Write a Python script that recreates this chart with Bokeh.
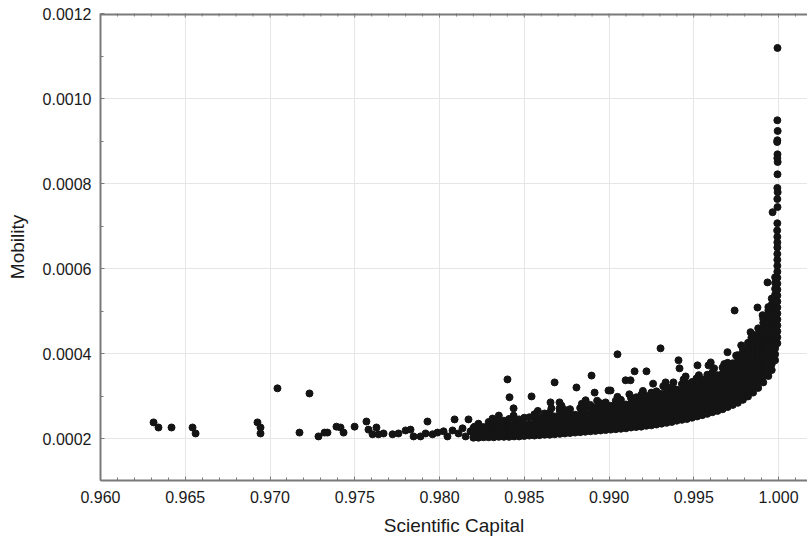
from math import pi
from bokeh.plotting import figure
from bokeh.models import Range1d, FixedTicker, PrintfTickFormatter, LinearAxis
from bokeh.embed import file_html
from bokeh.resources import INLINE

# ---------------- data ----------------
# Mobility values are written in units of 1e-4
x_major = [0.960, 0.965, 0.970, 0.975, 0.980, 0.985, 0.990, 0.995, 1.000]
x_minor = [0.961, 0.962, 0.963, 0.964, 0.966, 0.967, 0.968, 0.969, 0.971, 0.972,
           0.973, 0.974, 0.976, 0.977, 0.978, 0.979, 0.981, 0.982, 0.983, 0.984,
           0.986, 0.987, 0.988, 0.989, 0.991, 0.992, 0.993, 0.994, 0.996, 0.997,
           0.998, 0.999, 1.001]
y_major = [0.0002, 0.0004, 0.0006, 0.0008, 0.0010, 0.0012]
y_minor = [0.0001, 0.0003, 0.0005, 0.0007, 0.0009, 0.0011]

# sparse points on the left tail
tail_x = [0.96313, 0.96342, 0.96419, 0.96543, 0.96561, 0.96926, 0.96944, 0.96944,
          0.97044, 0.97233, 0.97174, 0.97286, 0.97322, 0.97339, 0.97392, 0.97416,
          0.97434, 0.97499, 0.97569, 0.97581, 0.97605, 0.97628, 0.97640, 0.97670,
          0.97723, 0.97758, 0.97800, 0.97829, 0.97847, 0.97888, 0.97918, 0.97929,
          0.97959, 0.97988, 0.98024, 0.98047, 0.98077, 0.98089, 0.98112, 0.98136,
          0.98154, 0.98171, 0.98183, 0.98207]
tail_y = [2.39, 2.27, 2.27, 2.27, 2.13, 2.39, 2.27, 2.13,
          3.19, 3.07, 2.15, 2.06, 2.15, 2.15, 2.29, 2.27,
          2.15, 2.29, 2.41, 2.22, 2.11, 2.27, 2.11, 2.13,
          2.11, 2.13, 2.20, 2.22, 2.06, 2.06, 2.13, 2.41,
          2.11, 2.15, 2.18, 2.06, 2.20, 2.46, 2.13, 2.25,
          2.06, 2.46, 2.18, 2.29]

# scattered points above the dense band
above_x = [0.98313, 0.98401, 0.98413, 0.98437, 0.98437, 0.98543, 0.98655, 0.98679,
           0.98708, 0.98708, 0.98808, 0.98862, 0.98897, 0.98915, 0.98968, 0.98997,
           0.99009, 0.99050, 0.99098, 0.99127, 0.99151, 0.99221, 0.99304, 0.99334,
           0.99393, 0.99398, 0.99410, 0.99416, 0.99452, 0.99516, 0.99522, 0.99587,
           0.99699, 0.99741, 0.99835, 0.99835, 0.99876, 0.99906, 0.99935,
           0.98350, 0.98580, 0.98660, 0.98720, 0.98840, 0.98930, 0.99050, 0.99120,
           0.99200, 0.99320, 0.99380, 0.99440, 0.99530, 0.99620, 0.99680, 0.99750,
           0.99780, 0.99840, 0.99600, 0.99260]
above_y = [2.48, 3.40, 2.98, 2.72, 2.55, 3.00, 2.86, 3.33,
           2.86, 2.72, 3.21, 2.91, 3.49, 3.09, 2.79, 3.14,
           3.14, 3.99, 3.38, 3.38, 3.59, 3.59, 4.13, 3.33,
           3.16, 3.16, 3.85, 3.66, 3.47, 3.42, 3.73, 3.73,
           4.04, 5.02, 4.51, 4.15, 5.09, 4.91, 5.68,
           2.55, 2.66, 2.72, 2.78, 2.83, 2.90, 2.99, 3.05,
           3.13, 3.24, 3.33, 3.40, 3.50, 3.66, 3.76, 3.96,
           4.20, 4.38, 3.80, 3.30]

# vertical spike close to a capital of 1
spike_x = [0.99994, 0.99993, 0.99995, 0.99993, 0.99992, 0.99994, 0.99993, 0.99995,
           0.99994, 0.99993, 0.99995, 0.99993, 0.99965, 0.99994, 0.99993, 0.99992]
spike_y = [11.19, 9.49, 9.24, 9.02, 8.98, 8.69, 8.60, 8.51,
           8.22, 7.90, 7.80, 7.64, 7.33, 7.45, 7.07, 6.90]

# dense band: (capital, [mobility values])
band = [
    (0.9820, [2.03, 2.14, 2.26]),
    (0.9823, [2.03, 2.15, 2.27, 2.36]),
    (0.9826, [2.04, 2.16, 2.28]),
    (0.9829, [2.04, 2.16, 2.29, 2.40]),
    (0.9832, [2.04, 2.17, 2.30, 2.41]),
    (0.9835, [2.05, 2.17, 2.30, 2.45]),
    (0.9838, [2.05, 2.18, 2.31, 2.43]),
    (0.9841, [2.05, 2.18, 2.32, 2.47]),
    (0.9844, [2.06, 2.19, 2.33, 2.48]),
    (0.9847, [2.06, 2.19, 2.33, 2.46]),
    (0.9850, [2.07, 2.20, 2.34, 2.50]),
    (0.9853, [2.08, 2.21, 2.35, 2.51]),
    (0.9856, [2.08, 2.22, 2.36, 2.50, 2.58]),
    (0.9859, [2.09, 2.22, 2.36, 2.50]),
    (0.9862, [2.10, 2.23, 2.37, 2.51, 2.60]),
    (0.9865, [2.10, 2.24, 2.38, 2.52, 2.62]),
    (0.9868, [2.11, 2.25, 2.39, 2.53]),
    (0.9871, [2.12, 2.26, 2.40, 2.54, 2.66]),
    (0.9874, [2.13, 2.27, 2.41, 2.55, 2.68]),
    (0.9877, [2.14, 2.28, 2.42, 2.56, 2.70]),
    (0.9880, [2.15, 2.29, 2.43, 2.57]),
    (0.9883, [2.16, 2.30, 2.44, 2.58, 2.73]),
    (0.9886, [2.17, 2.31, 2.45, 2.59, 2.74]),
    (0.9889, [2.18, 2.32, 2.46, 2.60, 2.75, 2.80]),
    (0.9892, [2.19, 2.33, 2.47, 2.61, 2.74]),
    (0.9895, [2.20, 2.34, 2.48, 2.62, 2.75, 2.84]),
    (0.9898, [2.21, 2.35, 2.49, 2.63, 2.77, 2.86]),
    (0.9901, [2.22, 2.36, 2.50, 2.64, 2.78]),
    (0.9904, [2.23, 2.37, 2.51, 2.65, 2.79, 2.90]),
    (0.9907, [2.24, 2.38, 2.52, 2.66, 2.80, 2.92]),
    (0.9910, [2.25, 2.39, 2.53, 2.67, 2.81]),
    (0.9913, [2.27, 2.41, 2.55, 2.69, 2.83, 2.96]),
    (0.9916, [2.28, 2.42, 2.56, 2.70, 2.84, 2.98]),
    (0.9919, [2.29, 2.43, 2.57, 2.71, 2.85, 2.99, 3.04]),
    (0.9922, [2.31, 2.45, 2.59, 2.73, 2.87, 3.01]),
    (0.9925, [2.32, 2.46, 2.60, 2.74, 2.88, 3.02, 3.09]),
    (0.9928, [2.34, 2.48, 2.62, 2.76, 2.90, 3.04, 3.12]),
    (0.9931, [2.36, 2.50, 2.64, 2.78, 2.92, 3.06]),
    (0.9934, [2.38, 2.52, 2.66, 2.80, 2.94, 3.08, 3.19]),
    (0.9937, [2.40, 2.54, 2.68, 2.82, 2.96, 3.10, 3.22]),
    (0.9940, [2.43, 2.57, 2.71, 2.85, 2.99, 3.13]),
    (0.9943, [2.45, 2.59, 2.73, 2.87, 3.01, 3.15, 3.29]),
    (0.9946, [2.47, 2.61, 2.75, 2.89, 3.03, 3.17, 3.31]),
    (0.9949, [2.50, 2.64, 2.78, 2.92, 3.06, 3.20, 3.34]),
    (0.9952, [2.53, 2.67, 2.81, 2.95, 3.09, 3.23, 3.37, 3.42]),
    (0.9955, [2.56, 2.70, 2.84, 2.98, 3.12, 3.26, 3.40]),
    (0.9958, [2.59, 2.73, 2.87, 3.01, 3.15, 3.29, 3.43, 3.51]),
    (0.9961, [2.63, 2.77, 2.91, 3.05, 3.19, 3.33, 3.47, 3.57]),
    (0.9964, [2.66, 2.80, 2.94, 3.08, 3.22, 3.36, 3.50]),
    (0.9967, [2.70, 2.84, 2.98, 3.12, 3.26, 3.40, 3.54, 3.68]),
    (0.9970, [2.75, 2.89, 3.03, 3.17, 3.31, 3.45, 3.59, 3.73, 3.79]),
    (0.9973, [2.80, 2.94, 3.08, 3.22, 3.36, 3.50, 3.64, 3.78]),
    (0.9976, [2.85, 2.99, 3.13, 3.27, 3.41, 3.55, 3.69, 3.83, 3.97]),
    (0.9979, [2.92, 3.06, 3.20, 3.34, 3.48, 3.62, 3.76, 3.90, 4.04, 4.12]),
    (0.9982, [3.00, 3.14, 3.28, 3.42, 3.56, 3.70, 3.84, 3.98, 4.12, 4.26]),
    (0.9985, [3.09, 3.23, 3.37, 3.51, 3.65, 3.79, 3.93, 4.07, 4.21, 4.35, 4.45]),
    (0.9988, [3.20, 3.34, 3.48, 3.62, 3.76, 3.90, 4.04, 4.18, 4.32, 4.46, 4.60]),
    (0.9991, [3.33, 3.47, 3.61, 3.75, 3.89, 4.03, 4.17, 4.31, 4.45, 4.59, 4.73, 4.82]),
    (0.9994, [3.48, 3.62, 3.76, 3.90, 4.04, 4.18, 4.32, 4.46, 4.60, 4.74, 4.88, 5.02, 5.10]),
    (0.9996, [3.62, 3.76, 3.90, 4.04, 4.18, 4.32, 4.46, 4.60, 4.74, 4.88, 5.02, 5.16, 5.30]),
    (0.9998, [3.85, 3.99, 4.13, 4.27, 4.41, 4.55, 4.69, 4.83, 4.97, 5.11, 5.25, 5.39,
              5.53, 5.67, 5.80]),
    (0.99993, [4.25, 4.39, 4.53, 4.67, 4.81, 4.95, 5.09, 5.23, 5.37, 5.51, 5.65, 5.79,
               5.93, 6.07, 6.21, 6.35, 6.50, 6.62, 6.75]),
]

# ---------------- assemble ----------------
xs = list(tail_x) + list(above_x) + list(spike_x)
ys = list(tail_y) + list(above_y) + list(spike_y)
for cx, col in band:
    for v in col:
        xs.append(cx)
        ys.append(v)
ys = [v * 1e-4 for v in ys]

FONT = "Liberation Sans"
AXIS_GREY = "#7a7a7a"
X_START, X_END = 0.960, 1.00171
Y_START, Y_END = 0.0001024, 0.0012

p = figure(width=807, height=542, output_backend="svg", toolbar_location=None,
           x_range=Range1d(X_START, X_END), y_range=Range1d(Y_START, Y_END),
           x_axis_location=None, y_axis_location=None,
           min_border_left=100, min_border_right=0, min_border_top=13,
           min_border_bottom=62)
p.outline_line_color = None
p.background_fill_color = "white"
p.border_fill_color = "white"

xt = FixedTicker(ticks=x_major, minor_ticks=x_minor)
yt = FixedTicker(ticks=y_major, minor_ticks=y_minor)


def style(ax):
    ax.axis_line_color = AXIS_GREY
    ax.axis_line_width = 2
    ax.major_tick_line_color = AXIS_GREY
    ax.minor_tick_line_color = AXIS_GREY
    ax.major_tick_in = 4
    ax.major_tick_out = 0
    ax.minor_tick_in = 3
    ax.minor_tick_out = 0
    ax.major_label_text_font = FONT
    ax.major_label_text_font_size = "16px"
    ax.major_label_text_color = "#1a1a1a"
    ax.axis_label_text_font = FONT
    ax.axis_label_text_font_size = "19px"
    ax.axis_label_text_font_style = "normal"
    ax.axis_label_text_color = "#1a1a1a"


xaxis = LinearAxis(ticker=xt, formatter=PrintfTickFormatter(format="%.3f"),
                   axis_label="Scientific Capital")
style(xaxis)
xaxis.major_label_standoff = 10
xaxis.axis_label_standoff = 9
p.add_layout(xaxis, "below")

yaxis = LinearAxis(ticker=yt, formatter=PrintfTickFormatter(format="%.4f"),
                   axis_label="Mobility")
style(yaxis)
yaxis.major_label_standoff = 9
yaxis.axis_label_standoff = 12
p.add_layout(yaxis, "left")

p.xgrid.ticker = xt
p.ygrid.ticker = yt
p.xgrid.grid_line_color = "#e6e6e6"
p.ygrid.grid_line_color = "#e6e6e6"
p.xgrid.minor_grid_line_color = None
p.ygrid.minor_grid_line_color = None

# top frame line with inward ticks (clipped to the frame)
p.hspan(y=[Y_END], line_color=AXIS_GREY, line_width=4)
p.scatter(x_major, [Y_END] * len(x_major), marker="dash", angle=pi / 2, size=8,
          line_color=AXIS_GREY, line_width=1)
p.scatter(x_minor, [Y_END] * len(x_minor), marker="dash", angle=pi / 2, size=6,
          line_color=AXIS_GREY, line_width=1)

p.scatter(xs, ys, size=7, color="#141414", line_color="#141414")

open("out.html", "w").write(file_html(p, INLINE))
